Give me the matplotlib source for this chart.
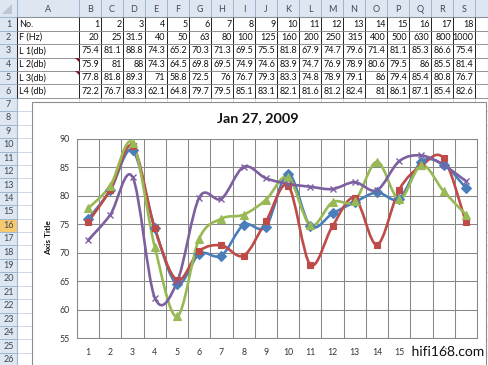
import matplotlib
matplotlib.use('Agg')
import matplotlib.pyplot as plt
from matplotlib.path import Path
from matplotlib.patches import PathPatch, Rectangle, Polygon
import matplotlib.patheffects as pe
import numpy as np

plt.rcParams['font.family'] = ['Lato', 'DejaVu Sans']

# ---------------- data ----------------
numbers = list(range(1, 19))
freqs = ['20', '25', '31.5', '40', '50', '63', '80', '100', '125', '160',
         '200', '250', '315', '400', '500', '630', '800', '1000']
L1 = [75.4, 81.1, 88.8, 74.3, 65.2, 70.3, 71.3, 69.5, 75.5, 81.8, 67.9, 74.7, 79.6, 71.4, 81.1, 85.3, 86.6, 75.4]
L2 = [75.9, 81, 88, 74.3, 64.5, 69.8, 69.5, 74.9, 74.6, 83.9, 74.7, 76.9, 78.9, 80.6, 79.5, 86, 85.5, 81.4]
L3 = [77.8, 81.8, 89.3, 71, 58.8, 72.5, 76, 76.7, 79.3, 83.3, 74.8, 78.9, 79.1, 86, 79.4, 85.4, 80.8, 76.7]
L4 = [72.2, 76.7, 83.3, 62.1, 64.8, 79.7, 79.5, 85.1, 83.1, 82.1, 81.6, 81.2, 82.4, 81, 86.1, 87.1, 85.4, 82.6]
row_labels = ['No.', 'F (Hz)', 'L 1(db)', 'L 2(db)', 'L 3(db)', 'L4 (db)']
col_letters = ['A', 'B', 'C', 'D', 'E', 'F', 'G', 'H', 'I', 'J', 'K', 'L', 'M', 'N', 'O', 'P', 'Q', 'R', 'S']
y_ticks = [55, 60, 65, 70, 75, 80, 85, 90]
title = 'Jan 27, 2009'
y_title = 'Axis Title'

W, H = 489, 365
fig = plt.figure(figsize=(W / 100, H / 100), dpi=100)
fig.patch.set_facecolor('white')

# ---------------- spreadsheet background ----------------
bg = fig.add_axes([0, 0, 1, 1])
bg.set_xlim(0, W)
bg.set_ylim(H, 0)
bg.axis('off')

hdr_h = 17.3
row_h = 13.42
rowhdr_w = 17
colA_r = 79
col_w = 22.0
col_edges = [rowhdr_w, colA_r] + [colA_r + col_w * k for k in range(1, 20)]
n_rows = 27
row_edges = [hdr_h + row_h * k for k in range(n_rows + 1)]

hdr_col = '#DDE6F1'
grid_col = '#D0D7E5'
bg.add_patch(Rectangle((0, 0), W, hdr_h, facecolor=hdr_col, edgecolor='none'))
bg.add_patch(Rectangle((0, 0), rowhdr_w, H, facecolor=hdr_col, edgecolor='none'))
bg.add_patch(Rectangle((0, row_edges[15]), rowhdr_w, row_h, facecolor='#F6C96E', edgecolor='none'))
bg.add_patch(Polygon([[12, 4], [12, 14], [2, 14]], closed=True, facecolor='#B8C6D6', edgecolor='none'))

for x in col_edges:
    bg.plot([x, x], [hdr_h, H], color=grid_col, lw=0.7, zorder=1)
for y in row_edges:
    bg.plot([rowhdr_w, W], [y, y], color=grid_col, lw=0.7, zorder=1)
for x in col_edges:
    bg.plot([x, x], [0, hdr_h], color='#9EB6CE', lw=0.7, zorder=2)
for y in row_edges:
    bg.plot([0, rowhdr_w], [y, y], color='#9EB6CE', lw=0.7, zorder=2)
bg.plot([0, W], [hdr_h, hdr_h], color='#9EB6CE', lw=0.8, zorder=2)
bg.plot([rowhdr_w, rowhdr_w], [0, H], color='#9EB6CE', lw=0.8, zorder=2)

hdr_txt = '#3E4A5A'
for i, letter in enumerate(col_letters):
    cx = (col_edges[i] + col_edges[i + 1]) / 2
    bg.text(cx, 10, letter, ha='center', va='center', fontsize=6.5, color=hdr_txt)
for r in range(1, n_rows + 1):
    cy = (row_edges[r - 1] + row_edges[r]) / 2
    bg.text(8.5, cy, str(r), ha='center', va='center', fontsize=6.5, color=hdr_txt)

table_rows = [[str(v) for v in numbers], freqs,
              [f'{v:g}' for v in L1], [f'{v:g}' for v in L2],
              [f'{v:g}' for v in L3], [f'{v:g}' for v in L4]]
tab_top = row_edges[0]
tab_bot = row_edges[6]
for r, (lab, vals) in enumerate(zip(row_labels, table_rows)):
    cy = (row_edges[r] + row_edges[r + 1]) / 2
    bg.text(19, cy, lab, ha='left', va='center', fontsize=6.5, color='#111111')
    for c, v in enumerate(vals):
        xr = col_edges[c + 2] - 1.5
        bg.text(xr, cy, v, ha='right', va='center', fontsize=6.5, color='#111111')
for x in col_edges[:21]:
    bg.plot([x, x], [tab_top, tab_bot], color='#222222', lw=0.7, zorder=3)
for y in row_edges[:7]:
    bg.plot([rowhdr_w, col_edges[20]], [y, y], color='#8A8A8A', lw=0.6, zorder=3)
for r in (3, 4):
    y0 = row_edges[r]
    bg.add_patch(Polygon([[colA_r - 4.5, y0 + 0.5], [colA_r - 0.5, y0 + 0.5], [colA_r - 0.5, y0 + 4.5]],
                         closed=True, facecolor='#8B1A2B', edgecolor='none', zorder=4))

# chart frame
bg.add_patch(Rectangle((32, 102), 454, 300, facecolor='white', edgecolor='#8C8C8C', lw=0.8, zorder=5))
bg.text(258, 118, title, ha='center', va='center', fontsize=10.4, fontweight='bold', color='#111111', zorder=6)
bg.text(49, 238, y_title, ha='center', va='center', rotation=90, fontsize=6, fontweight='bold',
        color='#111111', zorder=6)

# ---------------- chart ----------------
ax = fig.add_axes([77 / W, (H - 338) / H, 400 / W, 199 / H])
ax.set_facecolor('white')
ax.set_xlim(0.5, 18.5)
ax.set_ylim(55, 90)
ax.set_yticks(y_ticks)
ax.set_xticks(numbers)
ax.set_xticklabels([str(n) for n in numbers])
ax.tick_params(length=0, labelsize=6.3, colors='#333333')
ax.tick_params(axis='y', pad=5.5)
ax.tick_params(axis='x', pad=7)
gcol = '#878787'
for y in y_ticks:
    ax.axhline(y, color=gcol, lw=0.75, zorder=1)
for k in range(19):
    ax.axvline(0.5 + k, color=gcol, lw=0.75, zorder=1)
for s in ax.spines.values():
    s.set_color(gcol)
    s.set_linewidth(0.75)


def smooth_path(xs, ys):
    pts = np.column_stack([xs, ys]).astype(float)
    n = len(pts)
    verts = [pts[0]]
    codes = [Path.MOVETO]
    for i in range(n - 1):
        p0 = pts[i - 1] if i > 0 else pts[i]
        p1 = pts[i]
        p2 = pts[i + 1]
        p3 = pts[i + 2] if i + 2 < n else pts[i + 1]
        c1 = p1 + (p2 - p0) / 6.0
        c2 = p2 - (p3 - p1) / 6.0
        verts += [c1, c2, p2]
        codes += [Path.CURVE4] * 3
    return Path(verts, codes)


series = [
    (L2, '#4A7EBB', 'D', 4.8, 0.8),
    (L1, '#BE4B48', 's', 4.0, 0.8),
    (L3, '#98B954', '^', 5.8, 0.8),
    (L4, '#7D60A0', 'x', 5.0, 1.0),
]
for vals, col, mk, ms, mew in series:
    ax.add_patch(PathPatch(smooth_path(numbers, vals), facecolor='none', edgecolor=col,
                           lw=1.9, zorder=3, capstyle='round', joinstyle='round'))
    ax.plot(numbers, vals, linestyle='none', marker=mk, markersize=ms, color=col,
            markeredgecolor=col, markeredgewidth=mew, zorder=4)

# watermark
fig.text(448 / W, 1 - 352 / H, 'hifi168.com', ha='center', va='center', fontsize=10,
         color='#111111', path_effects=[pe.withStroke(linewidth=2, foreground='white')])

fig.savefig('out.png', dpi=100)
